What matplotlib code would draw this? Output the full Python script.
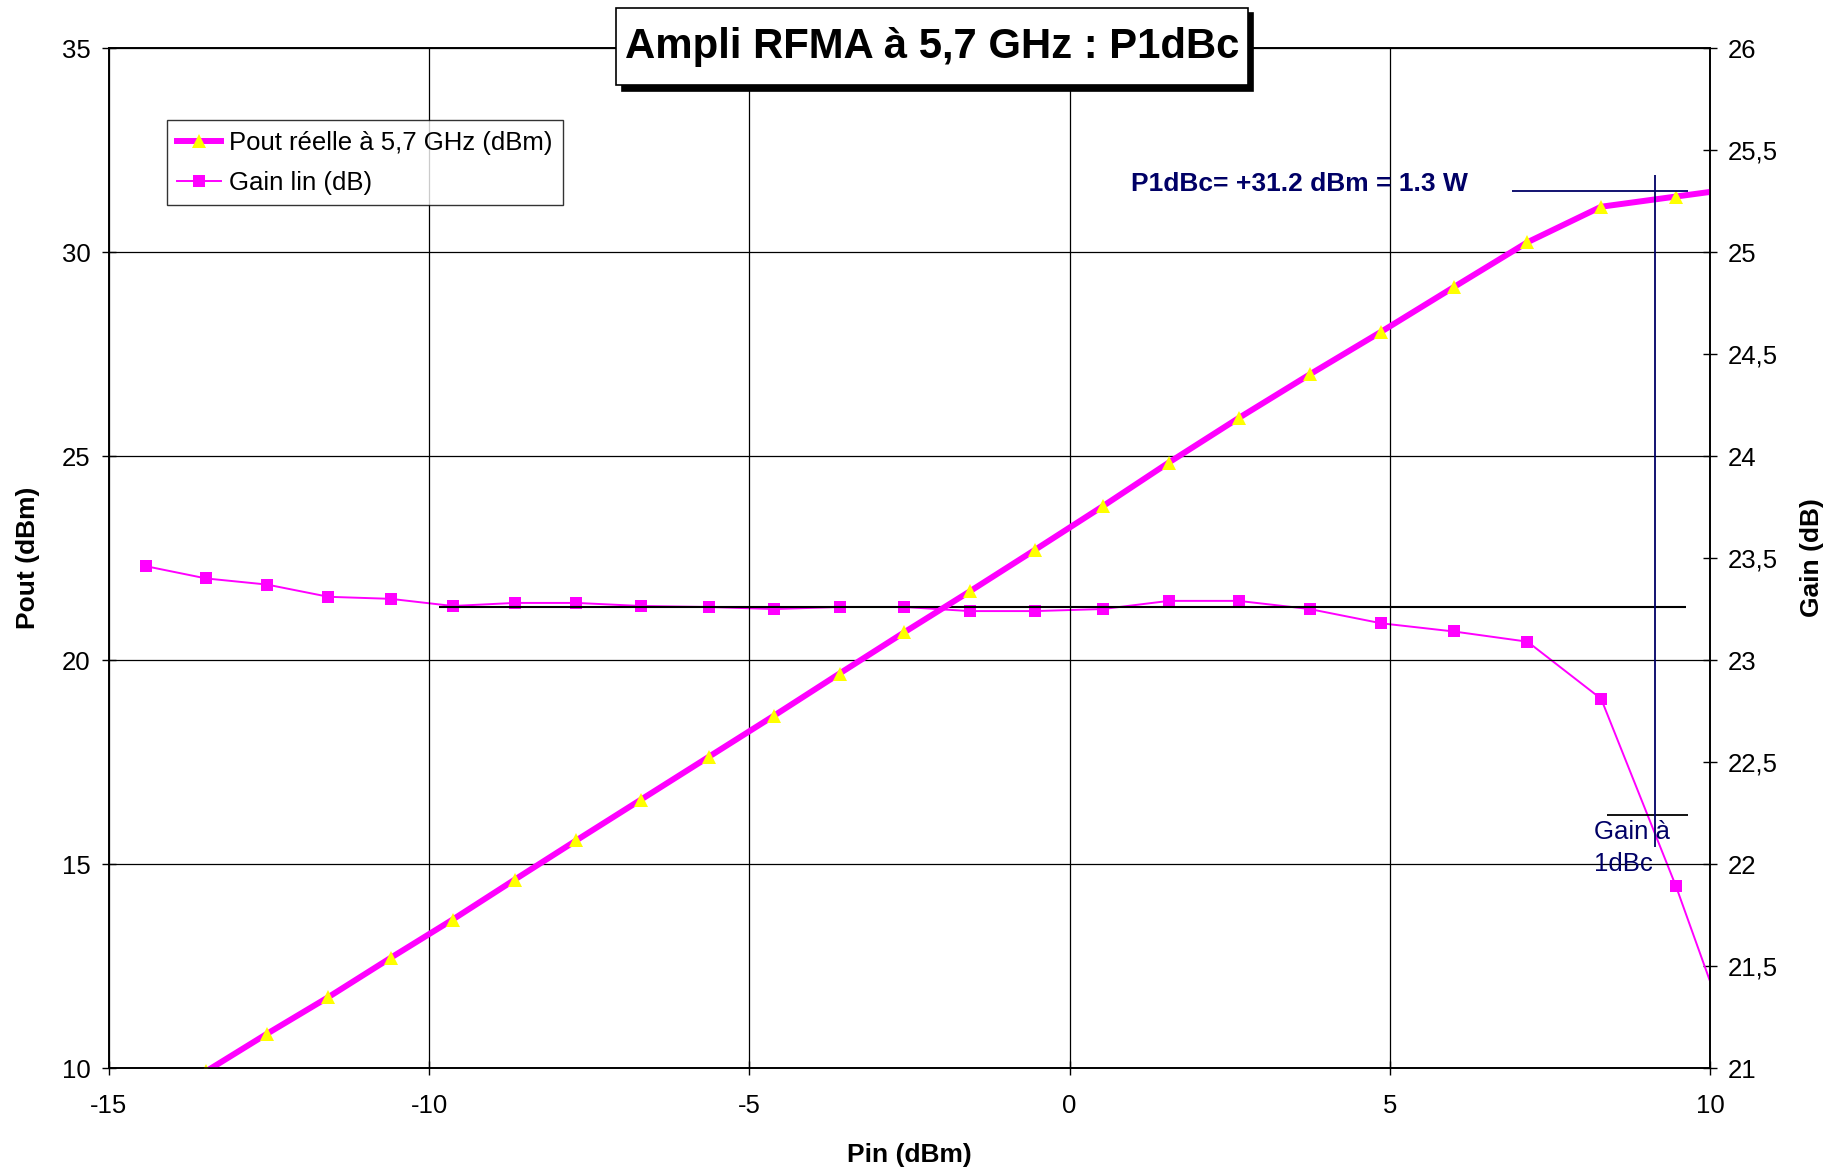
import matplotlib
matplotlib.use("Agg")
import matplotlib.pyplot as plt
from matplotlib.patches import Rectangle
from matplotlib.ticker import FuncFormatter

plt.rcParams['font.family'] = ['Liberation Sans', 'DejaVu Sans']
plt.rcParams['axes.unicode_minus'] = False

# mesures ampli RFMA a 5,7 GHz
pin = [-14.42, -13.48, -12.53, -11.57, -10.60, -9.63, -8.66, -7.70, -6.69, -5.63,
       -4.61, -3.59, -2.58, -1.56, -0.54, 0.52, 1.55, 2.64, 3.75, 4.87,
       6.00, 7.15, 8.30, 9.47, 10.60]
pout = [9.04, 9.92, 10.84, 11.74, 12.70, 13.64, 14.62, 15.58, 16.58, 17.63,
        18.64, 19.67, 20.68, 21.68, 22.70, 23.77, 24.84, 25.93, 27.00, 28.05,
        29.14, 30.24, 31.11, 31.36, 31.60]
gain = [23.46, 23.40, 23.37, 23.31, 23.30, 23.265, 23.28, 23.28, 23.265, 23.26,
        23.25, 23.26, 23.26, 23.24, 23.24, 23.25, 23.29, 23.29, 23.25, 23.18,
        23.14, 23.09, 22.81, 21.89, 20.90]

gain_lin = 23.26        # gain lineaire moyen
gain_1db = 22.24        # gain lineaire - 1 dB
p1db = 31.5
pin_1db = 9.14

fig = plt.figure(figsize=(18.34, 11.71), dpi=100)
ax = fig.add_axes([0.0593, 0.0879, 0.8731, 0.8711])
ax2 = ax.twinx()
ax.set_zorder(ax2.get_zorder() + 1)
ax.patch.set_visible(False)

ax.set_xlim(-15, 10)
ax.set_ylim(10, 35)
ax2.set_ylim(21, 26)
ax.set_xticks(range(-15, 11, 5))
ax.set_yticks(range(10, 36, 5))
ax2.set_yticks([21 + 0.5 * i for i in range(11)])
ax2.yaxis.set_major_formatter(FuncFormatter(lambda v, p: ('%g' % v).replace('.', ',')))

ax.grid(True, color='black', linewidth=0.9)
for a in (ax, ax2):
    a.tick_params(direction='inout', length=10, width=1, labelsize=18.5, pad=8)
    for s in a.spines.values():
        s.set_linewidth(1.2)
ax.tick_params(axis='x', pad=14)

# gain lineaire
ax2.plot(pin, gain, color='#ff00ff', linewidth=1.4, marker='s', markersize=8.5,
         markeredgewidth=0, label='Gain lin (dB)')
ax2.hlines(gain_lin, -9.85, 9.63, color='black', linewidth=1.5)
ax2.hlines(gain_1db, 8.39, 9.65, color='black', linewidth=1.3)

# puissance de sortie
l1, = ax.plot(pin, pout, color='#ff00ff', linewidth=4.3, marker='^', markersize=10,
              markerfacecolor='yellow', markeredgewidth=0,
              label='Pout réelle à 5,7 GHz (dBm)')
ax.hlines(p1db, 6.91, 9.65, color='#000066', linewidth=1.3)
ax.vlines(pin_1db, 15.42, 31.89, color='#000066', linewidth=1.3)
ax.text(0.96, 31.67, 'P1dBc= +31.2 dBm = 1.3 W', color='#000066', fontsize=19,
        fontweight='bold', va='center', ha='left')
ax.text(8.19, 15.39, 'Gain à\n1dBc', color='#000066', fontsize=18.5, va='center',
        ha='left', linespacing=1.45)

l2 = ax2.get_lines()[0]
leg = ax.legend([l1, l2], [l1.get_label(), l2.get_label()], loc='upper left',
                bbox_to_anchor=(0.0365, 0.929), fontsize=18.5, frameon=True,
                fancybox=False, edgecolor='black', handlelength=1.7,
                borderaxespad=0, handletextpad=0.3, labelspacing=0.62,
                borderpad=0.4)
leg.get_frame().set_linewidth(1.0)

ax.set_xlabel('Pin (dBm)', fontsize=19, fontweight='bold', labelpad=18)
ax.set_ylabel('Pout (dBm)', fontsize=19, fontweight='bold', labelpad=16)
ax2.set_ylabel('Gain (dB)', fontsize=19, fontweight='bold', rotation=90, labelpad=16)

# titre encadre avec ombre portee
bx, by, bw, bh = 0.3361, 0.9271, 0.3444, 0.0659
fig.add_artist(Rectangle((bx + 0.0028, by - 0.0045), bw, bh, transform=fig.transFigure,
                         facecolor='black', edgecolor='black', linewidth=1.2, zorder=2))
fig.add_artist(Rectangle((bx, by), bw, bh, transform=fig.transFigure,
                         facecolor='white', edgecolor='black', linewidth=1.2, zorder=2.1))
fig.text(bx + bw / 2, by + bh / 2, 'Ampli RFMA à 5,7 GHz : P1dBc', fontsize=30.2,
         fontweight='bold', ha='center', va='center', zorder=3)

fig.savefig('out.png', dpi=100)
